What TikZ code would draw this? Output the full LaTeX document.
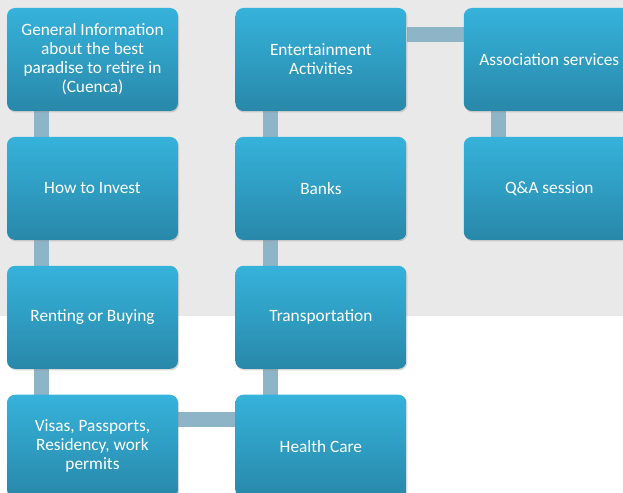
\documentclass[tikz,border=0pt]{standalone}
\usepackage{fontspec}
\setsansfont{Carlito}
\usetikzlibrary{positioning, shadows, backgrounds}
\definecolor{cbg}{HTML}{E9E9E9}
\definecolor{ctop}{HTML}{36B2DB}
\definecolor{cbot}{HTML}{2888A9}
\definecolor{clink}{HTML}{8EB4C8}
\tikzset{
  every picture/.style={font=\sffamily\fontsize{17.3}{19}\selectfont},
  topic/.style={rounded corners=8pt, top color=ctop, bottom color=cbot, text=white, align=center,
                minimum width=171pt, minimum height=103pt, inner sep=4pt,
                drop shadow={opacity=0.3, shadow xshift=1pt, shadow yshift=-1.5pt}},
  link/.style={draw=clink, line width=15pt},
}

\begin{document}
\begin{tikzpicture}[x=1pt, y=-1pt, node distance=25.5pt and 57pt]
  \useasboundingbox (0,0) rectangle (623,492);
  \clip (0,0) rectangle (623,492);
  % first column
  \node[topic] (info) at (92.5,59.5) {General Information\\about the best\\paradise to retire in\\(Cuenca)};
  \node[topic, below=of info] (invest) {How to Invest};
  \node[topic, below=of invest] (rent) {Renting or Buying};
  \node[topic, below=of rent] (visa) {Visas, Passports,\\Residency, work\\permits};
  % second column
  \node[topic, right=of info] (fun) {Entertainment\\Activities};
  \node[topic, below=of fun] (bank) {Banks};
  \node[topic, below=of bank] (trans) {Transportation};
  \node[topic, below=of trans] (health) {Health Care};
  % third column
  \node[topic, right=of fun] (assoc) {Association services};
  \node[topic, below=of assoc] (qa) {Q\&A session};
  \begin{scope}[on background layer]
    \fill[white] (0,0) rectangle (623,492);
    \fill[cbg] (0,0) rectangle (623,316);
    \foreach \a/\b in {info/invest, invest/rent, rent/visa, fun/bank, bank/trans, trans/health, assoc/qa}
      \draw[link] ([xshift=35pt]\a.south west) -- ([xshift=35pt]\b.north west);
    \draw[link] ([yshift=-27pt]fun.north east) -- ([yshift=-27pt]assoc.north west);
    \draw[link] ([yshift=-25pt]visa.north east) -- ([yshift=-25pt]health.north west);
  \end{scope}
\end{tikzpicture}
\end{document}
